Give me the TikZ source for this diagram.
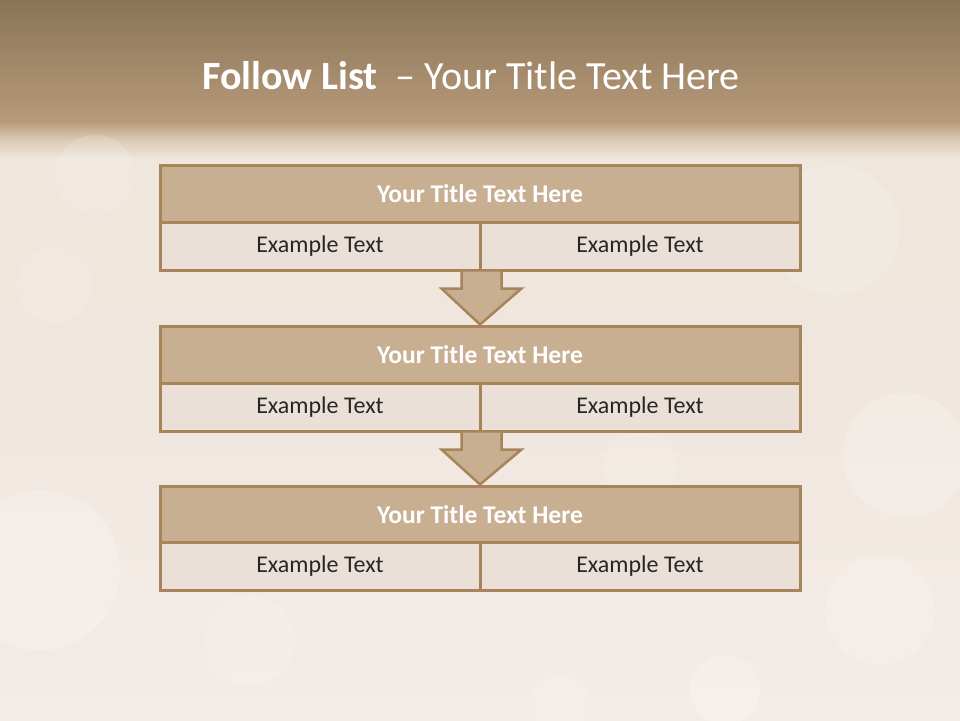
\documentclass[tikz,border=0pt]{standalone}
\usepackage{fontspec}
\setmainfont{Carlito}
\usetikzlibrary{calc}
\definecolor{brd}{HTML}{A8845B}
\definecolor{tfill}{HTML}{C8AF92}
\definecolor{cfill}{HTML}{EAE0D7}
\definecolor{bgA}{HTML}{8A7458}
\definecolor{bgB}{HTML}{B69A79}
\definecolor{bgC}{HTML}{DCCAB4}
\definecolor{bgD}{HTML}{EFE6DC}
\definecolor{bgE}{HTML}{F3ECE7}
\pgfdeclareverticalshading{slidebg}{100bp}{color(0bp)=(bgE); color(25bp)=(bgE); color(55bp)=(bgD); color(64.0bp)=(bgD); color(65.3bp)=(bgC); color(66.6bp)=(bgB); color(75bp)=(bgA); color(100bp)=(bgA)}
\tikzset{
  titlebox/.style={draw=brd, line width=3pt, fill=tfill, minimum width=640pt, minimum height=57pt, inner sep=0pt, text=white, font=\fontsize{25.5}{28}\selectfont\bfseries},
  cellbox/.style={draw=brd, line width=3pt, fill=cfill, minimum width=320pt, minimum height=48pt, inner sep=0pt, text=black!85, font=\fontsize{24}{27}\selectfont},
  blockarrow/.style={draw=brd, line width=2.5pt, fill=tfill, line join=miter},
  headline/.style={text=white, font=\fontsize{40}{44}\selectfont, inner sep=0pt},
  bokeh/.style={fill=white, draw=none}
}
\begin{document}
\begin{tikzpicture}[x=1pt, y=-1pt]
\useasboundingbox (0,0) rectangle (960,720);
\shade[shading=slidebg] (0,0) rectangle (960,720);
% faint bokeh
\begin{scope}
\clip (0,135) rectangle (960,720);
\fill[bokeh, opacity=0.2] (905,455) circle (62);
\fill[bokeh, opacity=0.18] (835,230) circle (65);
\fill[bokeh, opacity=0.22] (40,570) circle (80);
\fill[bokeh, opacity=0.18] (880,610) circle (55);
\fill[bokeh, opacity=0.22] (725,690) circle (35);
\fill[bokeh, opacity=0.15] (560,705) circle (30);
\fill[bokeh, opacity=0.15] (55,285) circle (38);
\fill[bokeh, opacity=0.15] (95,175) circle (40);
\fill[bokeh, opacity=0.12] (640,470) circle (38);
\fill[bokeh, opacity=0.12] (250,640) circle (45);
\end{scope}
\node[headline] (title) at (471,76) {\textbf{Follow List}\ \ – Your Title Text Here};
% row 1
\node[titlebox] (t1) at (480,193.5) {Your Title Text Here};
\node[cellbox] (a1) at (320,246) {Example Text};
\node[cellbox] (b1) at (640,246) {Example Text};
% row 2
\node[titlebox] (t2) at (480,354.5) {Your Title Text Here};
\node[cellbox] (a2) at (320,407) {Example Text};
\node[cellbox] (b2) at (640,407) {Example Text};
% row 3
\node[titlebox] (t3) at (480,514.5) {Your Title Text Here};
\node[cellbox] (a3) at (320,566) {Example Text};
\node[cellbox] (b3) at (640,566) {Example Text};
% arrows
\coordinate (s1) at (a1.south east);
\coordinate (s2) at (a2.south east);
\draw[blockarrow] ($(s1)+(-20,0)$) -- ($(s1)+(-20,17)$) -- ($(s1)+(-40,17)$) -- (t2.north) -- ($(s1)+(40,17)$) -- ($(s1)+(20,17)$) -- ($(s1)+(20,0)$);
\draw[blockarrow] ($(s2)+(-20,0)$) -- ($(s2)+(-20,17)$) -- ($(s2)+(-40,17)$) -- (t3.north) -- ($(s2)+(40,17)$) -- ($(s2)+(20,17)$) -- ($(s2)+(20,0)$);
\end{tikzpicture}
\end{document}
